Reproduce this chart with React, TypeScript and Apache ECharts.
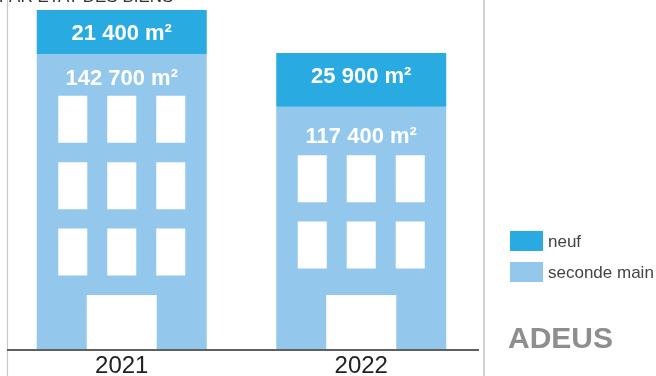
import React, { useEffect, useRef } from "react";
import * as echarts from "echarts";

const categories = ["2021", "2022"];
const neuf = [21400, 25900];
const secondeMain = [142700, 117400];
const windowRows = [3, 2];
const legendNames = ["neuf", "seconde main"];
const titleText = "PAR ÉTAT DES BIENS";
const logoText = "ADEUS";

const NEUF_COLOR = "#29ABE2";
const SECONDE_COLOR = "#93C8EC";
const secondLabelDist = [12, 18];

const fmt = (v: number) =>
  String(v).replace(/\B(?=(\d{3})+(?!\d))/g, " ") + " m²";

export default function App() {
  const ref = useRef<HTMLDivElement>(null);
  useEffect(() => {
    if (!ref.current) return;
    const chart = echarts.init(ref.current, null, { renderer: "svg" });
    const totals = categories.map((_, i) => neuf[i] + secondeMain[i]);
    const font = "Arial, 'Liberation Sans', sans-serif";
    const labelStyle = {
      show: true,
      color: "#fff",
      fontSize: 22,
      fontWeight: "bold" as const,
      fontFamily: font,
      formatter: (p: any) => fmt(p.value as number),
    };
    chart.setOption({
      animation: false,
      grid: { left: 2, right: 175, top: 10, bottom: 26 },
      xAxis: {
        type: "category",
        data: categories,
        axisLine: { show: false },
        axisTick: { show: false },
        axisLabel: { fontSize: 24, color: "#222", fontFamily: font, margin: 2 },
      },
      yAxis: {
        type: "value",
        min: 0,
        max: Math.max(...totals),
        show: false,
        splitLine: { show: false },
      },
      legend: {
        data: legendNames,
        orient: "vertical",
        left: 510,
        top: 231,
        itemWidth: 33,
        itemHeight: 20,
        itemGap: 11,
        padding: 0,
        icon: "rect",
        textStyle: { fontSize: 17, color: "#444", fontFamily: font },
      },
      series: [
        {
          name: "seconde main",
          type: "bar",
          stack: "total",
          barWidth: 170,
          itemStyle: { color: SECONDE_COLOR },
          data: secondeMain.map((v, i) => ({
            value: v,
            label: { ...labelStyle, position: "insideTop", distance: secondLabelDist[i] },
          })),
        },
        {
          name: "neuf",
          type: "bar",
          stack: "total",
          barWidth: 170,
          itemStyle: { color: NEUF_COLOR },
          label: { ...labelStyle, position: "insideTop", distance: 11 },
          data: neuf,
        },
        {
          type: "custom",
          name: "windows",
          silent: true,
          z: 5,
          clip: false,
          data: categories.map((_, i) => [i, secondeMain[i], windowRows[i]]),
          renderItem: (params: any, api: any) => {
            const idx = api.value(0);
            const top = api.coord([idx, api.value(1)]);
            const base = api.coord([idx, 0]);
            const cx = base[0];
            const baseY = base[1];
            const rows = api.value(2);
            const doorTop = baseY - 55;
            const winW = 29;
            const winH = 47;
            const rowStep = 66.3;
            const blockH = winH + (rows - 1) * rowStep;
            const center = (top[1] + doorTop) / 2 + 11;
            const start = center - blockH / 2;
            const children: any[] = [];
            const colOffsets = [-63.5, -14.5, 34.5];
            for (let r = 0; r < rows; r++) {
              for (const off of colOffsets) {
                children.push({
                  type: "rect",
                  shape: { x: cx + off, y: start + r * rowStep, width: winW, height: winH },
                  style: { fill: "#fff" },
                });
              }
            }
            children.push({
              type: "rect",
              shape: { x: cx - 35, y: doorTop, width: 70, height: baseY - doorTop },
              style: { fill: "#fff" },
            });
            return { type: "group", children };
          },
        },
      ],
      graphic: [
        {
          type: "line",
          shape: { x1: 7.5, y1: 0, x2: 7.5, y2: 376 },
          style: { stroke: "#c8c8c8", lineWidth: 1.2 },
          z: 10,
        },
        {
          type: "line",
          shape: { x1: 484, y1: 0, x2: 484, y2: 376 },
          style: { stroke: "#d2d2d2", lineWidth: 2 },
          z: 10,
        },
        {
          type: "line",
          shape: { x1: 7, y1: 350, x2: 479, y2: 350 },
          style: { stroke: "#606060", lineWidth: 2 },
          z: 10,
        },
        {
          type: "text",
          x: -1,
          y: 5,
          style: {
            text: titleText,
            font: `17px ${font}`,
            fill: "#333",
            verticalAlign: "bottom",
          },
          z: 10,
        },
        {
          type: "text",
          x: 508,
          y: 322,
          style: {
            text: logoText,
            font: `bold 30px ${font}`,
            fill: "#8e8e8e",
            verticalAlign: "top",
          },
          z: 10,
        },
      ],
    });
    return () => chart.dispose();
  }, []);
  return (
    <div
      ref={ref}
      style={{ position: "fixed", left: 0, top: 0, width: 656, height: 376 }}
    />
  );
}
